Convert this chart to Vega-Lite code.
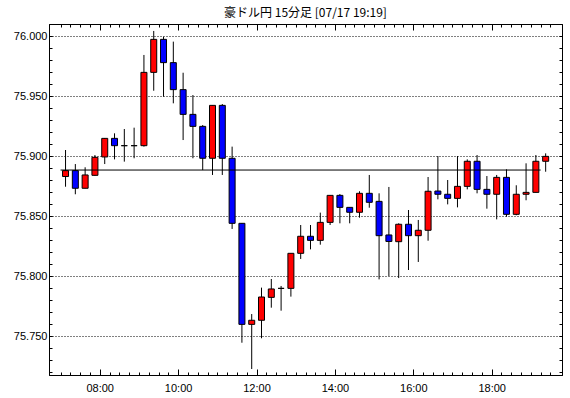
{
  "$schema": "https://vega.github.io/schema/vega-lite/v6.json",
  "autosize": {"type": "none"},
  "padding": {"left": 49, "top": 24, "right": 8, "bottom": 23},
  "width": 513,
  "height": 351,
  "background": "white",
  "title": {"text": "豪ドル円 15分足 [07/17 19:19]", "font": "Noto Sans CJK JP", "fontSize": 12, "fontWeight": "normal", "color": "black", "anchor": "middle", "offset": 4},
  "config": {
    "view": {"stroke": "black", "strokeWidth": 1},
    "axis": {"domainColor": "black", "tickColor": "black", "labelColor": "black", "labelFont": "Liberation Sans", "labelFontSize": 11}
  },
  "datasets": {
    "candles": [
      {"t": "2024-07-17T07:00:00Z", "o": 75.8829, "h": 75.9050, "l": 75.8744, "c": 75.8878},
      {"t": "2024-07-17T07:15:00Z", "o": 75.8878, "h": 75.8933, "l": 75.8681, "c": 75.8731},
      {"t": "2024-07-17T07:30:00Z", "o": 75.8731, "h": 75.8906, "l": 75.8731, "c": 75.8842},
      {"t": "2024-07-17T07:45:00Z", "o": 75.8839, "h": 75.9008, "l": 75.8836, "c": 75.8989},
      {"t": "2024-07-17T08:00:00Z", "o": 75.8992, "h": 75.9150, "l": 75.8933, "c": 75.9147},
      {"t": "2024-07-17T08:15:00Z", "o": 75.9147, "h": 75.9189, "l": 75.8972, "c": 75.9086},
      {"t": "2024-07-17T08:30:00Z", "o": 75.9086, "h": 75.9225, "l": 75.8953, "c": 75.9086},
      {"t": "2024-07-17T08:45:00Z", "o": 75.9086, "h": 75.9236, "l": 75.8981, "c": 75.9086},
      {"t": "2024-07-17T09:00:00Z", "o": 75.9086, "h": 75.9842, "l": 75.9078, "c": 75.9697},
      {"t": "2024-07-17T09:15:00Z", "o": 75.9697, "h": 76.0042, "l": 75.9544, "c": 75.9972},
      {"t": "2024-07-17T09:30:00Z", "o": 75.9972, "h": 75.9994, "l": 75.9494, "c": 75.9778},
      {"t": "2024-07-17T09:45:00Z", "o": 75.9778, "h": 75.9953, "l": 75.9439, "c": 75.9553},
      {"t": "2024-07-17T10:00:00Z", "o": 75.9553, "h": 75.9694, "l": 75.9133, "c": 75.9347},
      {"t": "2024-07-17T10:15:00Z", "o": 75.9347, "h": 75.9508, "l": 75.8981, "c": 75.9247},
      {"t": "2024-07-17T10:30:00Z", "o": 75.9247, "h": 75.9258, "l": 75.8883, "c": 75.8981},
      {"t": "2024-07-17T10:45:00Z", "o": 75.8981, "h": 75.9422, "l": 75.8842, "c": 75.9422},
      {"t": "2024-07-17T11:00:00Z", "o": 75.9422, "h": 75.9433, "l": 75.8842, "c": 75.8981},
      {"t": "2024-07-17T11:15:00Z", "o": 75.8981, "h": 75.9078, "l": 75.8392, "c": 75.8439},
      {"t": "2024-07-17T11:30:00Z", "o": 75.8439, "h": 75.8439, "l": 75.7444, "c": 75.7597},
      {"t": "2024-07-17T11:45:00Z", "o": 75.7597, "h": 75.7683, "l": 75.7225, "c": 75.7631},
      {"t": "2024-07-17T12:00:00Z", "o": 75.7631, "h": 75.7903, "l": 75.7481, "c": 75.7825},
      {"t": "2024-07-17T12:15:00Z", "o": 75.7822, "h": 75.7975, "l": 75.7736, "c": 75.7892},
      {"t": "2024-07-17T12:30:00Z", "o": 75.7897, "h": 75.7917, "l": 75.7711, "c": 75.7897},
      {"t": "2024-07-17T12:45:00Z", "o": 75.7897, "h": 75.8189, "l": 75.7828, "c": 75.8189},
      {"t": "2024-07-17T13:00:00Z", "o": 75.8189, "h": 75.8425, "l": 75.8142, "c": 75.8331},
      {"t": "2024-07-17T13:15:00Z", "o": 75.8331, "h": 75.8425, "l": 75.8222, "c": 75.8297},
      {"t": "2024-07-17T13:30:00Z", "o": 75.8297, "h": 75.8528, "l": 75.8261, "c": 75.8447},
      {"t": "2024-07-17T13:45:00Z", "o": 75.8447, "h": 75.8672, "l": 75.8425, "c": 75.8672},
      {"t": "2024-07-17T14:00:00Z", "o": 75.8672, "h": 75.8683, "l": 75.8439, "c": 75.8572},
      {"t": "2024-07-17T14:15:00Z", "o": 75.8572, "h": 75.8572, "l": 75.8439, "c": 75.8531},
      {"t": "2024-07-17T14:30:00Z", "o": 75.8531, "h": 75.8706, "l": 75.8486, "c": 75.8689},
      {"t": "2024-07-17T14:45:00Z", "o": 75.8689, "h": 75.8842, "l": 75.8569, "c": 75.8614},
      {"t": "2024-07-17T15:00:00Z", "o": 75.8622, "h": 75.8689, "l": 75.7972, "c": 75.8336},
      {"t": "2024-07-17T15:15:00Z", "o": 75.8342, "h": 75.8742, "l": 75.8000, "c": 75.8288},
      {"t": "2024-07-17T15:30:00Z", "o": 75.8286, "h": 75.8439, "l": 75.7983, "c": 75.8431},
      {"t": "2024-07-17T15:45:00Z", "o": 75.8431, "h": 75.8550, "l": 75.8050, "c": 75.8336},
      {"t": "2024-07-17T16:00:00Z", "o": 75.8336, "h": 75.8467, "l": 75.8117, "c": 75.8381},
      {"t": "2024-07-17T16:15:00Z", "o": 75.8381, "h": 75.8825, "l": 75.8294, "c": 75.8706},
      {"t": "2024-07-17T16:30:00Z", "o": 75.8708, "h": 75.9000, "l": 75.8639, "c": 75.8681},
      {"t": "2024-07-17T16:45:00Z", "o": 75.8681, "h": 75.8800, "l": 75.8597, "c": 75.8647},
      {"t": "2024-07-17T17:00:00Z", "o": 75.8647, "h": 75.9000, "l": 75.8572, "c": 75.8747},
      {"t": "2024-07-17T17:15:00Z", "o": 75.8747, "h": 75.8972, "l": 75.8722, "c": 75.8956},
      {"t": "2024-07-17T17:30:00Z", "o": 75.8956, "h": 75.9008, "l": 75.8689, "c": 75.8722},
      {"t": "2024-07-17T17:45:00Z", "o": 75.8722, "h": 75.8833, "l": 75.8561, "c": 75.8681},
      {"t": "2024-07-17T18:00:00Z", "o": 75.8681, "h": 75.8842, "l": 75.8472, "c": 75.8822},
      {"t": "2024-07-17T18:15:00Z", "o": 75.8822, "h": 75.8889, "l": 75.8494, "c": 75.8514},
      {"t": "2024-07-17T18:30:00Z", "o": 75.8514, "h": 75.8756, "l": 75.8506, "c": 75.8681},
      {"t": "2024-07-17T18:45:00Z", "o": 75.8681, "h": 75.8939, "l": 75.8631, "c": 75.8697},
      {"t": "2024-07-17T19:00:00Z", "o": 75.8697, "h": 75.9008, "l": 75.8697, "c": 75.8956},
      {"t": "2024-07-17T19:15:00Z", "o": 75.8956, "h": 75.9022, "l": 75.8869, "c": 75.8997}
    ],
    "ref": [
      {"t": "2024-07-17T07:00:00Z", "t2": "2024-07-17T19:15:00Z", "v": 75.8883}
    ]
  },
  "layer": [
    {
      "data": {"name": "candles"},
      "mark": {"type": "rule", "color": "black", "strokeWidth": 1, "xOffset": 5},
      "encoding": {
        "x": {"field": "t", "type": "temporal", "title": null,
          "scale": {"type": "utc", "domain": [1721199000000, 1721245200000], "nice": false},
          "axis": {"orient": "bottom", "grid": false,
            "values": [1721203200000, 1721210400000, 1721217600000, 1721224800000, 1721232000000, 1721239200000],
            "labelExpr": "utcFormat(datum.value, '%H:%M')", "tickSize": -6, "labelPadding": 13}},
        "y": {"field": "l", "type": "quantitative", "title": null,
          "scale": {"domain": [75.7175, 76.01], "nice": false, "zero": false},
          "axis": {"orient": "left",
            "values": [75.75, 75.8, 75.85, 75.9, 75.95, 76.0],
            "format": ".3f",
            "tickSize": -3, "labelPadding": 5,
            "grid": true, "gridColor": "black", "gridDash": [1, 2], "gridWidth": 1}},
        "y2": {"field": "h"}
      }
    },
    {
      "data": {"name": "candles"},
      "mark": {"type": "bar", "size": 6, "stroke": "black", "strokeWidth": 1, "xOffset": 5},
      "encoding": {
        "x": {"field": "t", "type": "temporal", "title": null,
          "axis": {"orient": "bottom", "grid": false, "labels": false, "domain": false, "tickSize": -3,
            "values": [1721199600000, 1721200500000, 1721201400000, 1721202300000, 1721203200000, 1721204100000, 1721205000000, 1721205900000, 1721206800000, 1721207700000, 1721208600000, 1721209500000, 1721210400000, 1721211300000, 1721212200000, 1721213100000, 1721214000000, 1721214900000, 1721215800000, 1721216700000, 1721217600000, 1721218500000, 1721219400000, 1721220300000, 1721221200000, 1721222100000, 1721223000000, 1721223900000, 1721224800000, 1721225700000, 1721226600000, 1721227500000, 1721228400000, 1721229300000, 1721230200000, 1721231100000, 1721232000000, 1721232900000, 1721233800000, 1721234700000, 1721235600000, 1721236500000, 1721237400000, 1721238300000, 1721239200000, 1721240100000, 1721241000000, 1721241900000, 1721242800000, 1721243700000, 1721244600000]}},
        "y": {"field": "o", "type": "quantitative", "title": null,
          "axis": {"orient": "right", "labels": false, "grid": false, "tickSize": -3,
            "values": [75.72, 75.73, 75.74, 75.75, 75.76, 75.77, 75.78, 75.79, 75.8, 75.81, 75.82, 75.83, 75.84, 75.85, 75.86, 75.87, 75.88, 75.89, 75.9, 75.91, 75.92, 75.93, 75.94, 75.95, 75.96, 75.97, 75.98, 75.99, 76.0]}},
        "y2": {"field": "c"},
        "color": {"condition": {"test": "datum.c >= datum.o", "value": "#ff0000"}, "value": "#0000ff"}
      }
    },
    {
      "data": {"name": "ref"},
      "mark": {"type": "rule", "color": "black", "strokeWidth": 1},
      "encoding": {
        "x": {"field": "t", "type": "temporal", "title": null,
          "axis": {"orient": "top", "grid": false, "labels": false, "tickSize": -6,
            "values": [1721203200000, 1721210400000, 1721217600000, 1721224800000, 1721232000000, 1721239200000]}},
        "x2": {"field": "t2"},
        "y": {"field": "v", "type": "quantitative", "title": null,
          "axis": {"orient": "left", "labels": false, "grid": false, "domain": false, "tickSize": -3,
            "values": [75.72, 75.73, 75.74, 75.75, 75.76, 75.77, 75.78, 75.79, 75.8, 75.81, 75.82, 75.83, 75.84, 75.85, 75.86, 75.87, 75.88, 75.89, 75.9, 75.91, 75.92, 75.93, 75.94, 75.95, 75.96, 75.97, 75.98, 75.99, 76.0]}}
      }
    },
    {
      "data": {"name": "ref"},
      "mark": {"type": "rule", "color": "black", "strokeWidth": 1, "opacity": 0},
      "encoding": {
        "x": {"field": "t", "type": "temporal", "title": null,
          "axis": {"orient": "top", "grid": false, "labels": false, "domain": false, "tickSize": -3,
            "values": [1721199600000, 1721200500000, 1721201400000, 1721202300000, 1721203200000, 1721204100000, 1721205000000, 1721205900000, 1721206800000, 1721207700000, 1721208600000, 1721209500000, 1721210400000, 1721211300000, 1721212200000, 1721213100000, 1721214000000, 1721214900000, 1721215800000, 1721216700000, 1721217600000, 1721218500000, 1721219400000, 1721220300000, 1721221200000, 1721222100000, 1721223000000, 1721223900000, 1721224800000, 1721225700000, 1721226600000, 1721227500000, 1721228400000, 1721229300000, 1721230200000, 1721231100000, 1721232000000, 1721232900000, 1721233800000, 1721234700000, 1721235600000, 1721236500000, 1721237400000, 1721238300000, 1721239200000, 1721240100000, 1721241000000, 1721241900000, 1721242800000, 1721243700000, 1721244600000]}},
        "x2": {"field": "t2"},
        "y": {"field": "v", "type": "quantitative", "axis": null}
      }
    }
  ],
  "resolve": {"axis": {"x": "independent", "y": "independent"}}
}
